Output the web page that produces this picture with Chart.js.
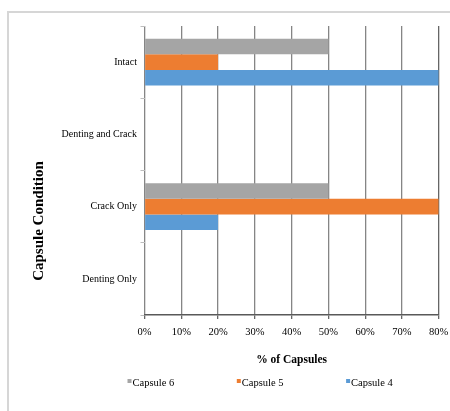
<!DOCTYPE html>
<html>
<head>
<meta charset="utf-8">
<title>Capsule Condition</title>
<script src="https://cdn.jsdelivr.net/npm/chart.js@4.4.1/dist/chart.umd.min.js"></script>
<style>
  html, body { margin: 0; padding: 0; background: #fff; }
  #wrap { position: relative; width: 450px; height: 411px; overflow: hidden; }
  #frame {
    position: absolute; left: 7px; top: 11px; right: -10px; bottom: -10px;
    border-left: 2px solid #d6d6d6; border-top: 2px solid #d6d6d6;
  }
  #chart { position: absolute; left: 0; top: 0; }
</style>
</head>
<body>
<div id="wrap">
  <div id="frame"></div>
  <canvas id="chart" width="450" height="411"></canvas>
</div>
<script>
(function () {
  'use strict';

  // categories, top to bottom
  var conditions = ['Intact', 'Denting and Crack', 'Crack Only', 'Denting Only'];

  // % of capsules per condition
  var capsule6 = [50, 0, 50, 0];
  var capsule5 = [20, 0, 80, 0];
  var capsule4 = [80, 0, 20, 0];

  var xTicks = [0, 10, 20, 30, 40, 50, 60, 70, 80];

  var serif = '"Liberation Serif", "Times New Roman", serif';
  var gridColor = '#858585';

  // Y title sits lower than the plot centre, and the legend is spread wide,
  // so both are drawn by hand after the chart
  var extras = {
    id: 'extras',
    afterDraw: function (chart) {
      var ctx = chart.ctx;
      ctx.save();

      ctx.font = 'bold 15px ' + serif;
      ctx.fillStyle = '#000';
      ctx.textAlign = 'center';
      ctx.textBaseline = 'middle';
      ctx.translate(39, 221);
      ctx.rotate(-Math.PI / 2);
      ctx.fillText('Capsule Condition', 0, 0);
      ctx.restore();

      ctx.save();
      ctx.font = '10.5px ' + serif;
      ctx.textAlign = 'left';
      ctx.textBaseline = 'middle';
      var x0 = 127.5, step = 109.3, y = 383;
      chart.data.datasets.forEach(function (ds, i) {
        var x = x0 + i * step;
        ctx.fillStyle = ds.backgroundColor;
        ctx.fillRect(x, y - 4, 4, 4);
        ctx.fillStyle = '#000';
        ctx.fillText(ds.label, x + 5, y);
      });
      ctx.restore();
    }
  };

  new Chart(document.getElementById('chart'), {
    type: 'bar',
    data: {
      labels: conditions,
      datasets: [
        { label: 'Capsule 6', data: capsule6, backgroundColor: '#A5A5A5' },
        { label: 'Capsule 5', data: capsule5, backgroundColor: '#ED7D31' },
        { label: 'Capsule 4', data: capsule4, backgroundColor: '#5B9BD5' }
      ]
    },
    options: {
      indexAxis: 'y',
      responsive: false,
      devicePixelRatio: 1,
      animation: false,
      layout: { padding: { top: 26, right: 11.3, left: 0, bottom: 44.4 } },
      datasets: {
        bar: { categoryPercentage: 0.65, barPercentage: 1, borderWidth: 0 }
      },
      plugins: {
        legend: { display: false },
        tooltip: { enabled: false }
      },
      scales: {
        x: {
          min: 0,
          max: 80,
          afterBuildTicks: function (scale) {
            scale.ticks = xTicks.map(function (v) { return { value: v }; });
          },
          afterFit: function (scale) {
            scale.height = 51.6;
            scale.paddingLeft = 0;
            scale.paddingRight = 0;
          },
          grid: {
            color: function (c) { return c.tick && c.tick.value === 80 ? '#666' : gridColor; },
            lineWidth: 1.3,
            tickLength: 4,
            tickColor: '#666'
          },
          border: { display: true, color: '#595959', width: 1.5 },
          ticks: {
            color: '#000',
            padding: 7,
            font: { family: serif, size: 10.5 },
            maxRotation: 0,
            callback: function (v) { return v + '%'; }
          },
          title: {
            display: true,
            text: '% of Capsules',
            color: '#000',
            padding: { top: 0, bottom: 0 },
            font: { family: serif, size: 11.5, weight: 'bold' }
          }
        },
        y: {
          afterFit: function (scale) { scale.width = 144.5; },
          grid: {
            drawOnChartArea: false,
            tickLength: 4,
            color: '#bdbdbd',
            lineWidth: 1
          },
          border: { display: false },
          ticks: {
            color: '#000',
            padding: 3.5,
            font: { family: serif, size: 10 }
          }
        }
      }
    },
    plugins: [extras]
  });
})();
</script>
</body>
</html>
